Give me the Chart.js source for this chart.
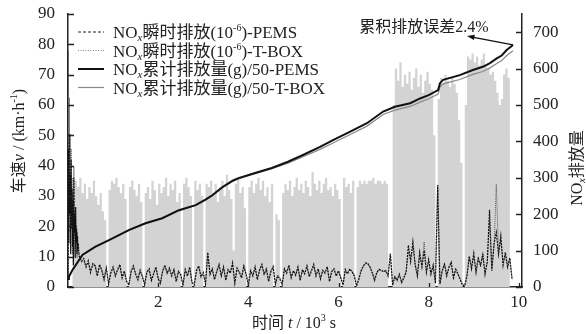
<!DOCTYPE html>
<html><head><meta charset="utf-8">
<script src="https://cdn.jsdelivr.net/npm/chart.js@4/dist/chart.umd.min.js"></script>
<style>html,body{margin:0;padding:0;background:#fff}#wrap{width:586px;height:334px}</style>
</head><body><div id="wrap"><canvas id="c" width="586" height="334"></canvas></div>
<script>
// ---------- DATA ----------
const xTicks = [2, 4, 6, 8, 10];
const leftTicks = [0, 10, 20, 30, 40, 50, 60, 70, 80, 90];
const rightTicks = [0, 100, 200, 300, 400, 500, 600, 700];

// vehicle speed, km/h, sampled every 0.05 (10^3 s) from t = 0
const speedStep = 0.05;
const speed = [
  0,0,0,28,35,33,36,31,34,29,
  33,31,35,30,27,31,25,22,0,32,
  35,34,36,33,31,34,29,0,33,35,
  32,30,34,28,0,31,33,29,35,32,
  27,34,31,33,36,30,34,32,35,28,
  31,0,34,36,33,30,0,35,32,34,
  30,0,34,33,35,31,34,28,33,35,
  30,37,32,29,12,34,36,31,33,26,
  0,33,35,31,34,36,32,35,30,33,
  28,34,0,24,22,0,31,34,32,35,
  30,33,36,32,34,31,35,33,30,38,
  34,32,35,31,34,36,32,33,30,34,
  32,29,0,36,33,34,31,35,0,33,
  35,34,35,34,35,35,36,34,35,35,
  34,35,34,0,0,60,72,68,74,66,
  70,67,71,65,69,72,66,70,64,68,
  71,67,65,50,0,62,69,67,70,68,
  66,69,67,64,55,41,0,60,76,75,
  77,74,76,73,75,77,73,72,70,71,
  68,64,60,62,70,72,69,0
];

// NOx instantaneous (10^-6): cold start every 0.01 from t = 0
const coldStep = 0.01;
const coldPems = [30,380,120,420,200,310,90,350,160,270,110,240,60,300,150,200,80,220,120,160,90,140,100,120,95];
const coldTbox = [20,650,150,520,260,420,100,380,180,300,90,260,70,330,140,210,100,190,130,170,80,150,110,110,90];
// then every 0.05 from t = 0.25
const instStart = 0.25, instStep = 0.05;
const instPems = [
  85,70,78,55,72,40,64,58,30,62,
  45,20,52,8,38,55,30,48,62,25,
  44,15,5,42,58,35,20,46,28,6,
  40,50,18,36,55,22,10,45,60,38,
  52,30,48,15,42,35,4,48,30,55,
  12,5,46,58,28,40,8,95,35,50,
  20,44,62,30,55,18,48,38,66,10,
  52,40,25,58,35,5,45,30,55,20,
  48,62,35,50,15,42,56,8,30,22,
  6,50,38,60,25,45,32,55,18,48,
  36,58,28,44,62,30,50,22,46,38,
  56,15,42,50,30,45,25,5,48,36,
  50,42,30,3,20,45,58,66,64,55,
  38,18,40,48,46,42,45,30,92,5,
  28,18,35,12,25,40,115,70,124,60,
  30,95,55,100,40,75,35,60,10,280,
  8,45,62,30,55,68,25,48,35,20,
  5,3,30,85,50,92,40,78,60,88,
  35,70,212,45,120,150,90,140,60,95,
  55,80,20
];
const instTbox = [
  80,74,70,60,66,45,60,62,34,58,
  48,24,50,12,42,52,34,44,58,28,
  40,18,8,46,54,38,24,42,32,10,
  44,46,22,40,52,26,14,42,56,40,
  48,34,44,18,46,32,8,44,34,52,
  16,8,42,54,32,36,12,88,38,46,
  24,40,58,34,52,22,44,42,62,14,
  48,44,28,54,38,9,42,34,52,24,
  44,58,38,46,18,46,52,12,34,26,
  10,46,42,56,28,42,36,52,22,44,
  40,54,32,48,58,34,46,26,42,42,
  52,18,46,46,34,42,28,8,44,40,
  46,44,34,6,24,42,55,64,66,52,
  40,22,38,50,44,44,42,34,85,8,
  30,22,32,16,28,44,95,80,110,66,
  34,88,60,124,46,70,40,56,14,275,
  12,42,66,34,52,62,28,52,38,24,
  8,6,34,80,56,86,44,82,56,92,
  40,66,180,50,110,282,96,130,66,88,
  60,76,24
];

// NOx cumulative (g)/50
const cumT    = [0,0.02,0.1,0.32,0.6,0.91,1.36,1.72,2.09,2.46,2.83,3.05,3.2,3.42,3.65,3.78,4.15,4.52,4.88,5.2,5.59,5.9,6.26,6.63,6.99,7.25,7.59,7.81,8.0,8.21,8.25,8.32,8.69,8.98,9.2,9.36,9.51,9.62,9.73,9.87];
const cumPems = [22,28,47,88,110,129,157,175,189,211,225,240,252,274,292,299,313,327,344,362,385,405,427,450,482,495,505,518,527,541,560,569,582,596,605,615,628,636,651,665];
const cumTbox = [22,28,47,88,110,129,157,175,189,210,224,239,251,272,290,297,311,325,340,357,378,397,419,442,474,486,496,508,517,530,549,558,570,584,592,602,614,622,636,649];

// ---------- BUILD ----------
const SERIF = '"Liberation Serif","Noto Sans CJK SC",serif';
const TXT = '#222';
const speedPts = speed.map((v, i) => ({x: +(i * speedStep).toFixed(3), y: v}));
const mkInst = (cold, main) => cold.map((v, i) => ({x: +(i * coldStep).toFixed(3), y: v}))
  .concat(main.map((v, i) => ({x: +(instStart + i * instStep).toFixed(3), y: v})));
const cumPts = arr => arr.map((v, i) => ({x: cumT[i], y: v}));

function drawRich(ctx, segs, x, y, align) {
  let w = 0;
  segs.forEach(g => { ctx.font = (g.it ? 'italic ' : '') + g.s + 'px ' + SERIF; g.w = ctx.measureText(g.t).width; w += g.w; });
  let cx = align === 'center' ? x - w / 2 : (align === 'right' ? x - w : x);
  ctx.textAlign = 'left'; ctx.textBaseline = 'alphabetic';
  segs.forEach(g => { ctx.font = (g.it ? 'italic ' : '') + g.s + 'px ' + SERIF; ctx.fillText(g.t, cx, y + (g.dy || 0)); cx += g.w; });
}
const NOx = s => [{t:'NO', s:s}, {t:'x', s:Math.round(s*0.62), it:true, dy:3}];

const deco = {
  id: 'deco',
  afterDraw(chart) {
    const ctx = chart.ctx, a = chart.chartArea;
    const sx = chart.scales.x, sy = chart.scales.y, sr = chart.scales.y1;
    ctx.save();
    // inner tick marks
    ctx.strokeStyle = TXT; ctx.lineWidth = 1.3;
    ctx.beginPath();
    leftTicks.forEach(v => { const p = Math.round(sy.getPixelForValue(v)) + 0.5; ctx.moveTo(a.left, p); ctx.lineTo(a.left + 6, p); });
    rightTicks.forEach(v => { const p = Math.round(sr.getPixelForValue(v)) + 0.5; ctx.moveTo(a.right, p); ctx.lineTo(a.right - 6, p); });
    xTicks.forEach(v => { const p = Math.round(sx.getPixelForValue(v)) + 0.5; ctx.moveTo(p, a.bottom); ctx.lineTo(p, a.bottom - 4); });
    ctx.stroke();

    ctx.fillStyle = TXT;
    // legend
    const rows = [
      {dash:[3,2], color:'#222', w:1, label:'瞬时排放(10', sup:'-6', tail:')-PEMS'},
      {dash:[1,1.5], color:'#888', w:1, label:'瞬时排放(10', sup:'-6', tail:')-T-BOX'},
      {dash:[], color:'#111', w:2, label:'累计排放量(g)/50-PEMS'},
      {dash:[], color:'#888', w:1.2, label:'累计排放量(g)/50-T-BOX'}
    ];
    const ly = [32, 50.5, 69, 87.5];
    rows.forEach((r, i) => {
      ctx.beginPath(); ctx.setLineDash(r.dash); ctx.strokeStyle = r.color; ctx.lineWidth = r.w;
      ctx.moveTo(78, ly[i]); ctx.lineTo(104, ly[i]); ctx.stroke();
      ctx.setLineDash([]);
      const segs = NOx(17).concat([{t:r.label, s:17}]);
      if (r.sup) segs.push({t:r.sup, s:10, dy:-7}, {t:r.tail, s:17});
      drawRich(ctx, segs, 113, ly[i] + 6, 'left');
    });

    // annotation
    drawRich(ctx, [{t:'累积排放误差2.4%', s:16}], 424, 32, 'center');
    const tx = sx.getPixelForValue(cumT[cumT.length - 1]), ty = sr.getPixelForValue(cumPems[cumPems.length - 1]);
    const hx = tx - 46, hy = ty - 9;
    ctx.strokeStyle = '#111'; ctx.lineWidth = 1.3;
    ctx.beginPath(); ctx.moveTo(tx, ty); ctx.lineTo(hx + 4, hy + 1); ctx.stroke();
    const ang = Math.atan2(hy - ty, hx - tx);
    ctx.beginPath();
    ctx.moveTo(hx, hy);
    ctx.lineTo(hx - 8 * Math.cos(ang - 0.35), hy - 8 * Math.sin(ang - 0.35));
    ctx.lineTo(hx - 8 * Math.cos(ang + 0.35), hy - 8 * Math.sin(ang + 0.35));
    ctx.closePath(); ctx.fillStyle = '#111'; ctx.fill();
    ctx.fillStyle = TXT;

    // axis titles
    ctx.save(); ctx.translate(18, 141); ctx.rotate(-Math.PI / 2);
    drawRich(ctx, [{t:'车速', s:16}, {t:'v', s:16, it:true}, {t:' / (km·h', s:16}, {t:'-1', s:10, dy:-7}, {t:')', s:16}], 0, 6, 'center');
    ctx.restore();
    ctx.save(); ctx.translate(576, 168); ctx.rotate(-Math.PI / 2);
    drawRich(ctx, NOx(16).concat([{t:'排放量', s:16}]), 0, 6, 'center');
    ctx.restore();
    drawRich(ctx, [{t:'时间 ', s:16}, {t:'t', s:16, it:true}, {t:' / 10', s:16}, {t:'3', s:10, dy:-7}, {t:' s', s:16}], 294, 328, 'center');
    ctx.restore();
  }
};

const noPad = s => { s.paddingTop = 0; s.paddingBottom = 0; s.paddingLeft = 0; s.paddingRight = 0; };
const tickFont = {family: SERIF, size: 17};
new Chart(document.getElementById('c'), {
  type: 'line',
  data: {
    datasets: [
      {data: cumPts(cumPems), yAxisID: 'y1', borderColor: '#111', borderWidth: 2, pointRadius: 0, tension: 0},
      {data: cumPts(cumTbox), yAxisID: 'y1', borderColor: '#888', borderWidth: 1.2, pointRadius: 0, tension: 0},
      {data: mkInst(coldPems, instPems), yAxisID: 'y1', borderColor: '#111', borderWidth: 1.2, borderDash: [2, 1], pointRadius: 0, tension: 0},
      {data: mkInst(coldTbox, instTbox), yAxisID: 'y1', borderColor: '#555', borderWidth: 1, borderDash: [1, 1], pointRadius: 0, tension: 0},
      {data: speedPts, yAxisID: 'y', borderColor: 'rgba(0,0,0,0)', borderWidth: 0, backgroundColor: '#d3d3d3', fill: 'origin', stepped: 'after', pointRadius: 0}
    ]
  },
  options: {
    responsive: false, animation: false, events: [],
    layout: {padding: {top: 14, left: 0, right: 0, bottom: 0}},
    plugins: {legend: {display: false}, tooltip: {enabled: false}},
    scales: {
      x: {type: 'linear', min: 0, max: 10.07,
          afterBuildTicks: s => { s.ticks = xTicks.map(v => ({value: v})); },
          afterFit: s => { s.height = 47; noPad(s); },
          grid: {display: false, drawTicks: false},
          border: {display: true, color: TXT, width: 1.5},
          ticks: {font: tickFont, color: TXT, padding: 5, maxRotation: 0}},
      y: {type: 'linear', position: 'left', min: 0, max: 90,
          afterBuildTicks: s => { s.ticks = leftTicks.map(v => ({value: v})); },
          afterFit: s => { s.width = 68; noPad(s); },
          grid: {display: false, drawTicks: false},
          border: {display: true, color: TXT, width: 1.5},
          ticks: {font: tickFont, color: TXT, padding: 13}},
      y1: {type: 'linear', position: 'right', min: 0, max: 750,
          afterBuildTicks: s => { s.ticks = rightTicks.map(v => ({value: v})); },
          afterFit: s => { s.width = 64; noPad(s); },
          grid: {display: false, drawTicks: false},
          border: {display: true, color: TXT, width: 1.5},
          ticks: {font: tickFont, color: TXT, padding: 11}}
    }
  },
  plugins: [deco]
});
</script></body></html>
